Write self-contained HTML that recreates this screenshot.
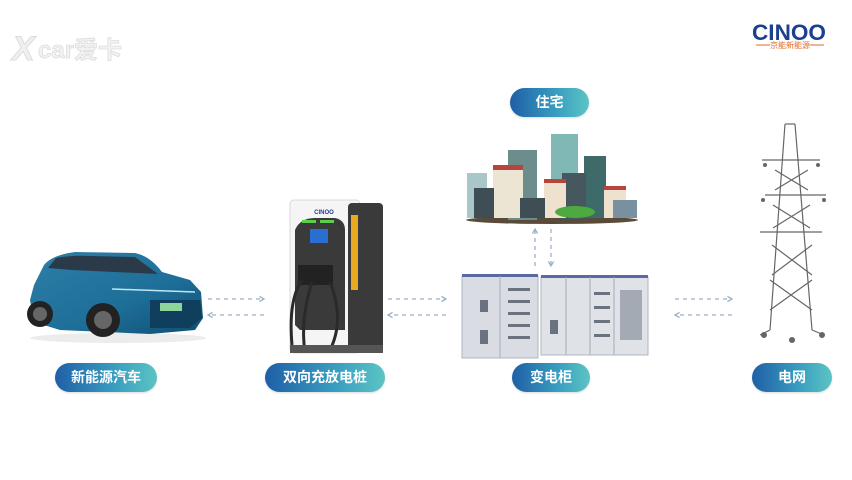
<!DOCTYPE html>
<html><head><meta charset="utf-8">
<style>
html,body{margin:0;padding:0;background:#fff;}
body{width:852px;height:480px;position:relative;overflow:hidden;font-family:"Liberation Sans","Noto Sans CJK SC",sans-serif;}
.pill{position:absolute;height:29px;border-radius:15px;background:linear-gradient(90deg,#1f5fa6,#3a9fc0 60%,#5cc4c4);color:#fff;font-size:14px;font-weight:bold;line-height:29px;text-align:center;font-family:"Liberation Sans","Noto Sans CJK SC",sans-serif;box-shadow:0 1px 2px rgba(0,0,0,.15);}
svg{position:absolute;left:0;top:0;}
</style></head><body>
<svg width="852" height="480" viewBox="0 0 852 480">
<defs>
<marker id="ah" viewBox="0 0 10 10" refX="8" refY="5" markerWidth="5" markerHeight="5" orient="auto"><path d="M1,1 L8,5 L1,9" fill="none" stroke="#9bb0c8" stroke-width="2"/></marker>
<linearGradient id="car" x1="0" y1="0" x2="1" y2="1"><stop offset="0" stop-color="#2e7fa8"/><stop offset=".6" stop-color="#1d6e98"/><stop offset="1" stop-color="#0f4e72"/></linearGradient>
</defs>
<text x="12" y="60" font-size="34" font-weight="bold" font-style="italic" fill="#f0f0f0" stroke="#dcdcdc" stroke-width="1" font-family="Liberation Sans,sans-serif">X</text>
<text x="38" y="58" font-size="24" font-weight="bold" fill="#f2f2f2" stroke="#dddddd" stroke-width=".8" font-family="Liberation Sans,Noto Sans CJK SC,sans-serif">car爱卡</text>
<text x="752" y="40" font-size="22" font-weight="bold" fill="#1d3f8f" font-family="Liberation Sans,sans-serif" textLength="74" lengthAdjust="spacingAndGlyphs">CINOO</text>
<line x1="756" y1="45" x2="770" y2="45" stroke="#e06a2a" stroke-width="1"/>
<line x1="810" y1="45" x2="824" y2="45" stroke="#e06a2a" stroke-width="1"/>
<text x="790" y="48" font-size="8" fill="#e06a2a" text-anchor="middle" font-family="Noto Sans CJK SC,sans-serif">京能新能源</text>

<!-- car -->
<ellipse cx="118" cy="338" rx="88" ry="5" fill="#ececec"/>
<path d="M30,300 L34,285 L44,265 Q52,255 75,252 L135,253 Q150,256 162,272 L190,280 L201,292 L203,318 L195,330 L150,334 L60,330 L34,322 Z" fill="url(#car)"/>
<path d="M48,268 L56,258 Q72,255 90,256 L135,257 L158,274 L72,270 Z" fill="#2a3a48"/>
<path d="M150,300 L200,300 L202,318 L190,328 L150,328 Z" fill="#0f3f5c"/>
<rect x="160" y="303" width="22" height="8" fill="#8ed49a"/>
<circle cx="40" cy="314" r="13" fill="#222"/><circle cx="40" cy="314" r="7" fill="#666"/>
<circle cx="103" cy="320" r="17" fill="#222"/><circle cx="103" cy="320" r="9" fill="#666"/>
<path d="M112,289 L195,292" stroke="#bfe6f2" stroke-width="1.5"/>

<!-- charger -->
<rect x="290" y="200" width="70" height="153" rx="4" fill="#f5f5f5" stroke="#d8d8d8"/>
<rect x="348" y="203" width="35" height="150" rx="4" fill="#3a3a3a"/>
<rect x="351" y="215" width="7" height="75" fill="#e8a820"/>
<path d="M295,230 Q300,218 315,218 L335,218 Q345,220 345,230 L345,330 L300,330 L295,325 Z" fill="#3a3a3a"/>
<rect x="310" y="229" width="18" height="14" fill="#2a6fd0"/>
<rect x="302" y="220" width="14" height="3" fill="#5ccf4a"/><rect x="320" y="220" width="14" height="3" fill="#5ccf4a"/>
<text x="324" y="214" font-size="6" fill="#1d3f8f" text-anchor="middle" font-weight="bold">CINOO</text>
<rect x="298" y="265" width="35" height="20" fill="#222"/>
<path d="M302,280 Q288,300 292,345 M312,282 Q300,320 305,352 M330,282 Q345,320 330,350" fill="none" stroke="#2a2a2a" stroke-width="3"/>
<rect x="290" y="345" width="93" height="8" fill="#555"/>

<!-- city -->
<ellipse cx="552" cy="220" rx="86" ry="4" fill="#5a4a3a"/>
<rect x="551" y="134" width="27" height="50" fill="#7fb8b4"/>
<rect x="508" y="150" width="29" height="70" fill="#6c8d8c"/>
<rect x="584" y="156" width="22" height="62" fill="#3f6a6a"/>
<rect x="467" y="173" width="20" height="45" fill="#a9c7c9"/>
<rect x="493" y="166" width="30" height="52" fill="#ede5d4"/>
<rect x="493" y="165" width="30" height="5" fill="#b8443e"/>
<rect x="474" y="188" width="20" height="30" fill="#3f4d55"/>
<rect x="562" y="173" width="24" height="46" fill="#46575e"/>
<rect x="544" y="180" width="22" height="38" fill="#eee2cf"/>
<rect x="544" y="179" width="22" height="4" fill="#b8443e"/>
<rect x="520" y="198" width="25" height="20" fill="#3f4d55"/>
<rect x="604" y="187" width="22" height="31" fill="#eee2cf"/>
<rect x="604" y="186" width="22" height="4" fill="#b8443e"/>
<rect x="613" y="200" width="24" height="18" fill="#7890a0"/>
<ellipse cx="575" cy="212" rx="20" ry="6" fill="#4caa40"/>

<!-- cabinets -->
<rect x="462" y="276" width="76" height="82" fill="#d9dde3" stroke="#b0b6c0"/>
<rect x="462" y="274" width="76" height="3" fill="#5a6aa0"/>
<rect x="541" y="277" width="107" height="78" fill="#dfe2e6" stroke="#b0b6c0"/>
<rect x="541" y="275" width="107" height="3" fill="#5a6aa0"/>
<line x1="500" y1="276" x2="500" y2="358" stroke="#aab"/>
<line x1="566" y1="277" x2="566" y2="355" stroke="#aab"/>
<line x1="590" y1="277" x2="590" y2="355" stroke="#aab"/>
<line x1="614" y1="277" x2="614" y2="355" stroke="#aab"/>
<g fill="#6a7280">
<rect x="508" y="288" width="22" height="3"/><rect x="508" y="300" width="22" height="3"/><rect x="508" y="312" width="22" height="3"/><rect x="508" y="324" width="22" height="3"/><rect x="508" y="336" width="22" height="3"/>
<rect x="480" y="300" width="8" height="12"/><rect x="480" y="330" width="8" height="14"/>
<rect x="594" y="292" width="16" height="3"/><rect x="594" y="306" width="16" height="3"/><rect x="594" y="320" width="16" height="3"/><rect x="594" y="334" width="16" height="3"/>
<rect x="620" y="290" width="22" height="50" opacity=".5"/>
<rect x="550" y="320" width="8" height="14"/>
</g>

<!-- tower -->
<g stroke="#666" stroke-width="1.2" fill="none">
<path d="M785,124 L770,330 M795,124 L812,330"/>
<path d="M785,124 L795,124"/>
<path d="M762,160 L820,160 M765,195 L826,195 M760,232 L822,232"/>
<path d="M775,170 L808,190 M808,170 L775,190 M773,205 L810,228 M810,205 L773,228 M772,245 L812,275 M812,245 L772,275 M770,280 L812,310 M812,280 L770,310"/>
<path d="M770,330 L760,335 M812,330 L824,335"/>
</g>
<g fill="#666"><circle cx="764" cy="335" r="3"/><circle cx="822" cy="335" r="3"/><circle cx="792" cy="340" r="3"/><circle cx="765" cy="165" r="2"/><circle cx="818" cy="165" r="2"/><circle cx="763" cy="200" r="2"/><circle cx="824" cy="200" r="2"/></g>

<g stroke="#9bb0c8" stroke-width="1.3" stroke-dasharray="4,4" fill="none" marker-end="url(#ah)">
<line x1="208" y1="299" x2="264" y2="299"/>
<line x1="264" y1="315" x2="208" y2="315"/>
<line x1="388" y1="299" x2="446" y2="299"/>
<line x1="446" y1="315" x2="388" y2="315"/>
<line x1="675" y1="299" x2="732" y2="299"/>
<line x1="732" y1="315" x2="675" y2="315"/>
<line x1="535" y1="266" x2="535" y2="229"/>
<line x1="551" y1="229" x2="551" y2="266"/>
</g>
</svg>
<div class="pill" style="left:510px;top:88px;width:79px;">住宅</div>
<div class="pill" style="left:55px;top:363px;width:102px;">新能源汽车</div>
<div class="pill" style="left:265px;top:363px;width:120px;">双向充放电桩</div>
<div class="pill" style="left:512px;top:363px;width:78px;">变电柜</div>
<div class="pill" style="left:752px;top:363px;width:80px;">电网</div>
</body></html>
